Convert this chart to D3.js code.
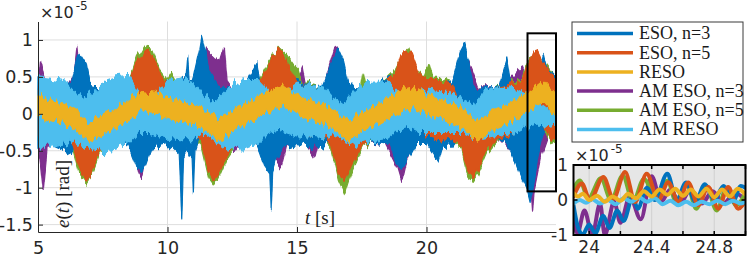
<!DOCTYPE html>
<html>
<head>
<meta charset="utf-8">
<script src="https://cdn.jsdelivr.net/npm/d3@7"></script>
<style>
  body { margin: 0; background: #fff; }
  figure { margin: 0; }
</style>
</head>
<body>
<figure></figure>
<script>
const W = 747
const H = 257

// legend order
const seriesNames = ['ESO, n=3', 'ESO, n=5', 'RESO', 'AM ESO, n=3', 'AM ESO, n=5', 'AM RESO']
const seriesColors = ['#0072BD', '#D95319', '#EDB120', '#7E2F8E', '#77AC30', '#4DBEEE']
const drawOrder = [3, 4, 0, 1, 5, 2]

// main plot: envelope of each fast-oscillating signal, rows are [t, low, high] (x1e-5 rad)
const eso3Band = [[5.0,-0.45,0.5],[5.5,-0.42,0.38],[6.0,-0.5,0.35],[6.3,-0.55,0.45],[6.5,-0.3,0.75],[6.65,-0.25,0.82],[6.85,-0.2,0.7],[7.0,-0.3,0.4],[7.5,-0.45,0.35],[8.0,-0.4,0.4],[8.5,-0.45,0.45],[8.8,-0.72,0.3],[9.0,-0.78,0.2],[9.15,-0.7,0.2],[9.4,-0.45,0.3],[10.0,-0.4,0.45],[10.45,-0.55,0.45],[10.55,-1.41,0.48],[10.62,-0.6,0.5],[10.72,-0.55,0.5],[10.78,-0.5,0.77],[10.84,-0.55,0.45],[10.95,-0.6,0.45],[11.0,-1.07,0.5],[11.06,-0.5,0.6],[11.25,-0.3,0.9],[11.32,-0.25,1.05],[11.45,-0.2,0.85],[11.6,-0.3,0.6],[12.0,-0.36,0.38],[12.5,-0.38,0.36],[13.0,-0.38,0.4],[13.45,-0.42,0.68],[13.55,-0.5,0.45],[13.75,-0.7,0.35],[13.95,-0.8,0.3],[14.0,-1.3,0.3],[14.06,-0.75,0.3],[14.2,-0.6,0.3],[14.5,-0.45,0.35],[15.0,-0.4,0.45],[15.5,-0.45,0.4],[16.0,-0.45,0.4],[16.4,-0.3,0.75],[16.6,-0.25,0.86],[16.8,-0.3,0.7],[17.0,-0.38,0.38],[17.5,-0.38,0.36],[18.0,-0.38,0.38],[18.6,-0.42,0.5],[18.9,-0.72,0.3],[19.1,-0.73,0.25],[19.3,-0.6,0.25],[19.6,-0.4,0.4],[20.0,-0.4,0.45],[20.45,-0.64,0.4],[20.6,-0.45,0.4],[21.0,-0.45,0.45],[21.3,-0.3,0.85],[21.45,-0.25,0.95],[21.6,-0.3,0.75],[21.8,-0.35,0.35],[22.3,-0.35,0.33],[22.8,-0.35,0.38],[23.1,-0.4,0.73],[23.25,-0.5,0.4],[23.7,-0.9,0.3],[23.9,-1.05,0.2],[24.0,-1.2,0.2],[24.1,-1.0,0.3],[24.3,-0.6,0.45],[24.5,-0.3,0.82],[24.65,-0.1,0.6],[25.0,-0.2,0.5]]

const eso5Band = [[5.0,-0.3,0.3],[5.5,-0.35,0.3],[6.0,-0.3,0.25],[6.3,-0.35,0.1],[6.6,-0.75,0.0],[6.8,-0.88,-0.05],[7.0,-0.85,-0.1],[7.2,-0.65,0.0],[7.5,-0.45,0.2],[8.0,-0.3,0.3],[8.5,-0.2,0.4],[8.75,-0.1,0.65],[9.0,0.0,0.8],[9.15,0.05,0.87],[9.4,0.0,0.82],[9.7,-0.1,0.55],[10.0,-0.25,0.42],[10.5,-0.3,0.45],[11.0,-0.3,0.35],[11.3,-0.35,0.1],[11.6,-0.8,0.0],[11.8,-0.92,-0.05],[12.0,-0.8,-0.05],[12.3,-0.55,0.05],[12.6,-0.4,0.25],[13.0,-0.3,0.3],[13.5,-0.2,0.4],[13.9,-0.1,0.65],[14.15,0.0,0.82],[14.3,0.05,0.89],[14.5,0.0,0.78],[14.8,-0.15,0.55],[15.0,-0.25,0.4],[15.5,-0.3,0.4],[16.0,-0.3,0.35],[16.3,-0.4,0.1],[16.6,-0.8,0.0],[16.85,-0.9,-0.05],[17.1,-0.7,0.0],[17.4,-0.5,0.2],[17.8,-0.35,0.3],[18.3,-0.25,0.38],[18.8,-0.1,0.55],[19.0,0.0,0.78],[19.2,0.05,0.85],[19.45,0.0,0.8],[19.7,-0.15,0.55],[20.0,-0.3,0.45],[20.5,-0.35,0.45],[21.0,-0.35,0.4],[21.35,-0.45,0.1],[21.6,-0.78,0.0],[21.8,-0.85,-0.05],[22.0,-0.75,0.0],[22.3,-0.5,0.15],[22.7,-0.35,0.35],[23.2,-0.3,0.4],[23.7,-0.15,0.45],[23.95,-0.05,0.7],[24.15,0.0,0.88],[24.3,-0.05,0.85],[24.5,-0.15,0.7],[24.75,-0.3,0.55],[25.0,-0.35,0.45]]

const resoBand = [[5.0,-0.03,0.23],[5.5,-0.08,0.18],[6.0,-0.13,0.13],[6.5,-0.23,0.03],[7.0,-0.38,-0.12],[7.5,-0.28,-0.02],[8.0,-0.18,0.08],[8.5,-0.08,0.18],[9.0,0.04,0.3],[9.5,0.02,0.28],[10.0,-0.05,0.21],[10.5,-0.08,0.18],[11.0,-0.15,0.11],[11.5,-0.22,0.04],[12.0,-0.36,-0.1],[12.5,-0.23,0.03],[13.0,-0.13,0.13],[13.5,-0.03,0.23],[14.0,0.05,0.31],[14.5,0.12,0.38],[15.0,-0.01,0.25],[15.5,-0.08,0.18],[16.0,-0.13,0.13],[16.5,-0.23,0.03],[17.0,-0.36,-0.1],[17.5,-0.23,0.03],[18.0,-0.16,0.1],[18.5,-0.05,0.21],[19.0,0.04,0.3],[19.5,0.1,0.36],[20.0,0.0,0.26],[20.5,-0.07,0.19],[21.0,-0.13,0.13],[21.5,-0.22,0.04],[22.0,-0.36,-0.1],[22.5,-0.23,0.03],[23.0,-0.16,0.1],[23.5,-0.06,0.2],[24.0,0.04,0.3],[24.5,0.17,0.43],[25.0,-0.03,0.23]]

const amEso3Band = [[5.0,-0.4,0.35],[5.1,-0.7,0.73],[5.2,-1.05,0.55],[5.35,-0.5,0.35],[5.6,-0.38,0.3],[6.0,-0.38,0.3],[6.4,-0.4,0.55],[6.5,-0.3,0.89],[6.6,-0.25,0.55],[7.0,-0.3,0.35],[7.5,-0.38,0.3],[8.0,-0.35,0.35],[8.6,-0.4,0.4],[8.9,-0.8,0.2],[9.0,-0.86,0.2],[9.1,-0.7,0.2],[9.4,-0.4,0.3],[10.0,-0.35,0.38],[10.5,-0.38,0.36],[11.0,-0.38,0.35],[11.5,-0.2,0.85],[11.8,-0.2,0.75],[12.0,-0.3,0.7],[12.2,-0.3,0.93],[12.3,-0.35,0.45],[12.6,-0.55,0.3],[13.0,-0.35,0.35],[13.5,-0.35,0.4],[14.0,-0.55,0.25],[14.4,-0.73,0.25],[14.6,-0.45,0.25],[15.0,-0.35,0.38],[15.2,-0.4,0.65],[15.35,-0.4,0.35],[15.7,-0.6,0.3],[15.85,-0.38,0.3],[16.0,-0.38,0.35],[16.45,-0.3,0.89],[16.6,-0.3,0.85],[16.8,-0.3,0.45],[17.2,-0.38,0.3],[17.8,-0.38,0.35],[18.4,-0.4,0.4],[18.9,-0.75,0.3],[19.05,-0.93,0.25],[19.2,-0.7,0.25],[19.5,-0.4,0.35],[20.0,-0.38,0.38],[20.5,-0.45,0.35],[21.0,-0.38,0.38],[21.5,-0.3,0.8],[21.75,-0.3,0.6],[22.0,-0.38,0.35],[22.5,-0.38,0.35],[23.0,-0.38,0.38],[23.7,-0.7,0.65],[23.9,-1.0,0.3],[24.05,-1.1,0.2],[24.1,-1.36,0.2],[24.15,-1.05,0.4],[24.4,-0.6,0.7],[24.7,-0.3,0.45],[25.0,-0.3,0.4]]

const amEso5Band = [[5.0,-0.35,0.33],[5.5,-0.4,0.33],[6.0,-0.35,0.28],[6.3,-0.42,0.15],[6.6,-0.82,0.05],[6.85,-0.93,0.0],[7.1,-0.8,0.05],[7.4,-0.52,0.22],[7.7,-0.42,0.4],[7.8,-0.4,0.3],[8.0,-0.35,0.33],[8.5,-0.25,0.43],[8.8,-0.15,0.75],[9.1,-0.05,0.93],[9.4,-0.05,0.88],[9.7,-0.15,0.6],[10.0,-0.3,0.46],[10.15,-0.4,0.55],[10.3,-0.35,0.46],[10.5,-0.35,0.48],[11.0,-0.35,0.38],[11.3,-0.42,0.15],[11.6,-0.88,0.05],[11.8,-0.98,0.0],[12.0,-0.85,0.0],[12.3,-0.6,0.08],[12.6,-0.45,0.28],[13.0,-0.35,0.33],[13.5,-0.25,0.43],[13.9,-0.15,0.7],[14.3,-0.05,0.9],[14.6,-0.1,0.8],[14.9,-0.25,0.65],[15.05,-0.32,0.6],[15.2,-0.33,0.43],[15.5,-0.35,0.43],[16.0,-0.35,0.38],[16.3,-0.45,0.15],[16.6,-0.88,0.05],[16.85,-1.08,0.0],[17.1,-0.8,0.05],[17.4,-0.55,0.23],[17.55,-0.45,0.58],[17.7,-0.42,0.33],[18.2,-0.3,0.4],[18.8,-0.15,0.6],[19.1,-0.05,0.8],[19.3,-0.05,0.88],[19.6,-0.15,0.62],[19.9,-0.33,0.48],[20.1,-0.4,0.68],[20.25,-0.4,0.48],[20.45,-0.59,0.48],[20.6,-0.4,0.48],[21.0,-0.38,0.43],[21.35,-0.48,0.13],[21.6,-0.85,0.05],[21.8,-0.9,0.0],[22.0,-0.8,0.05],[22.3,-0.55,0.18],[22.7,-0.38,0.38],[23.2,-0.33,0.43],[23.7,-0.2,0.48],[23.95,-0.1,0.75],[24.2,-0.05,0.85],[24.5,-0.2,0.72],[24.8,-0.35,0.58],[25.0,-0.4,0.48]]

const amResoBand = [[5.0,-0.45,0.5],[5.5,-0.45,0.48],[6.0,-0.42,0.45],[6.4,-0.35,0.3],[6.8,-0.45,0.2],[7.2,-0.48,0.3],[7.6,-0.5,0.45],[8.0,-0.48,0.5],[8.5,-0.4,0.52],[8.9,-0.25,0.28],[9.3,-0.25,0.22],[9.7,-0.3,0.3],[10.0,-0.33,0.45],[10.5,-0.35,0.48],[11.0,-0.35,0.42],[11.4,-0.25,0.25],[11.8,-0.35,0.15],[12.2,-0.45,0.3],[12.6,-0.48,0.42],[13.0,-0.47,0.45],[13.5,-0.4,0.45],[13.9,-0.25,0.3],[14.3,-0.22,0.25],[14.7,-0.27,0.33],[15.0,-0.3,0.4],[15.5,-0.3,0.4],[16.0,-0.32,0.38],[16.4,-0.28,0.22],[16.8,-0.35,0.12],[17.2,-0.42,0.3],[17.6,-0.38,0.42],[18.0,-0.36,0.43],[18.5,-0.33,0.42],[18.9,-0.22,0.28],[19.3,-0.18,0.25],[19.7,-0.25,0.3],[20.0,-0.25,0.32],[20.5,-0.25,0.3],[21.0,-0.25,0.28],[21.4,-0.25,0.2],[21.8,-0.32,0.12],[22.2,-0.33,0.28],[22.6,-0.3,0.35],[23.0,-0.28,0.36],[23.5,-0.25,0.33],[23.9,-0.18,0.25],[24.3,-0.15,0.15],[24.7,-0.17,0.05],[25.0,-0.15,0.05]]

// inset: turning points of each signal, rows are [t, e]
const eso3Zoom = [[23.9,-0.15],[23.93,-0.8],[23.96,-0.98],[24.0,-0.7],[24.04,-0.95],[24.09,-0.45],[24.13,-0.8],[24.18,-0.3],[24.22,-0.6],[24.28,0.1],[24.31,-0.25],[24.37,0.35],[24.42,0.0],[24.5,0.75],[24.56,0.0],[24.62,0.5],[24.68,-0.05],[24.74,0.45],[24.8,0.0],[24.86,0.4],[24.92,-0.05],[24.97,0.4],[25.0,0.35]]
const eso5Zoom = [[23.9,0.1],[23.953,0.47],[24.006,0.0],[24.091,0.66],[24.155,0.04],[24.23,0.8],[24.294,-0.06],[24.368,0.75],[24.443,0.0],[24.506,0.51],[24.57,-0.05],[24.634,0.5],[24.698,-0.15],[24.762,0.37],[24.826,-0.25],[24.889,0.37],[24.953,-0.25],[25.0,0.0]]
const resoZoom = [[23.9,0.2],[23.93,0.1],[23.96,0.18],[24.0,0.0],[24.05,0.12],[24.1,-0.05],[24.15,0.1],[24.2,-0.02],[24.25,0.18],[24.3,0.05],[24.35,0.25],[24.4,0.1],[24.45,0.3],[24.5,0.15],[24.55,0.32],[24.6,0.12],[24.65,0.3],[24.7,0.1],[24.75,0.32],[24.8,0.08],[24.85,0.3],[24.9,0.1],[24.95,0.32],[25.0,0.15]]
const amEso3Zoom = [[23.9,-0.6],[23.925,-0.95],[23.97,-0.3],[24.02,-1.0],[24.07,-0.1],[24.1,-1.0],[24.16,-0.05],[24.2,-0.65],[24.26,0.1],[24.33,-0.55],[24.4,0.68],[24.46,-0.05],[24.52,0.3],[24.58,-0.1],[24.65,0.3],[24.72,-0.1],[24.79,0.25],[24.86,-0.1],[24.93,0.2],[25.0,0.0]]
const amEso5Zoom = [[23.9,0.3],[23.94,0.56],[23.995,0.05],[24.075,0.62],[24.14,0.0],[24.215,0.7],[24.28,-0.05],[24.35,0.6],[24.43,0.05],[24.5,0.55],[24.56,-0.1],[24.625,0.45],[24.685,-0.25],[24.75,0.4],[24.815,-0.3],[24.88,0.35],[24.94,-0.15],[25.0,0.2]]
const amResoZoom = [[23.9,-0.1],[23.94,0.0],[23.98,-0.08],[24.02,0.02],[24.07,-0.1],[24.12,0.0],[24.17,-0.12],[24.22,0.05],[24.27,-0.05],[24.32,0.08],[24.37,-0.05],[24.42,0.05],[24.47,-0.12],[24.52,-0.02],[24.57,-0.15],[24.62,-0.05],[24.67,-0.15],[24.72,-0.05],[24.77,-0.12],[24.82,-0.02],[24.87,-0.12],[24.92,-0.02],[24.97,-0.1],[25.0,-0.05]]

const bands = [eso3Band, eso5Band, resoBand, amEso3Band, amEso5Band, amResoBand]
const zooms = [eso3Zoom, eso5Zoom, resoZoom, amEso3Zoom, amEso5Zoom, amResoZoom]

const xTicks = [5, 10, 15, 20]
const yTicks = [-1.5, -1, -0.5, 0, 0.5, 1]
const zoomXTicks = [24, 24.2, 24.4, 24.6, 24.8, 25]
const zoomXLabels = [24, 24.4, 24.8]
const zoomYTicks = [-1, 0, 1]
const zoomWindow = { t: [23.9, 25], e: [-1.05, 1.09] }

const sans = 'DejaVu Sans, sans-serif'
const serif = 'Liberation Serif, DejaVu Serif, serif'
const axisColor = '#262626'

const svg = d3.select('figure').append('svg')
  .attr('width', W)
  .attr('height', H)
  .style('display', 'block')

// ragged edge so the filled envelopes read like densely packed oscillations
const defs = svg.append('defs')
const rough = defs.append('filter').attr('id', 'rough')
  .attr('x', '-2%').attr('y', '-10%').attr('width', '104%').attr('height', '120%')
  .attr('color-interpolation-filters', 'sRGB')
rough.append('feTurbulence').attr('type', 'fractalNoise')
  .attr('baseFrequency', '0.32 0.03').attr('numOctaves', 2).attr('seed', 4).attr('result', 'n')
rough.append('feColorMatrix').attr('in', 'n').attr('type', 'matrix')
  .attr('values', '0 0 0 0 0.5  0 1 0 0 0  0 0 0 0 0  0 0 0 0 1').attr('result', 'm')
rough.append('feDisplacementMap').attr('in', 'SourceGraphic').attr('in2', 'm')
  .attr('scale', 14).attr('xChannelSelector', 'R').attr('yChannelSelector', 'G')

// Scales
const x = d3.scaleLinear().domain([5, 25]).range([38, 556])
const y = d3.scaleLinear().domain([-1.6, 1.25]).range([232, 21.5])

// grid
svg.append('g').selectAll('line').data(yTicks).join('line')
  .attr('x1', x(5)).attr('x2', x(25))
  .attr('y1', d => y(d)).attr('y2', d => y(d))
  .attr('stroke', '#dedede').attr('stroke-width', 1)
svg.append('g').selectAll('line').data(xTicks.slice(1)).join('line')
  .attr('x1', d => x(d)).attr('x2', d => x(d))
  .attr('y1', y(1.25)).attr('y2', y(-1.6))
  .attr('stroke', '#dedede').attr('stroke-width', 1)

// bands
const band = d3.area()
  .x(d => x(d[0]))
  .y0(d => y(d[1]))
  .y1(d => y(d[2]))

svg.append('g').attr('filter', 'url(#rough)')
  .selectAll('path').data(drawOrder).join('path')
  .attr('d', i => band(bands[i]))
  .attr('fill', i => seriesColors[i])
  .attr('stroke', i => seriesColors[i])
  .attr('stroke-width', 1.2)
  .attr('stroke-linejoin', 'round')

// axes
const fmt = d => String(d)
const yAxis = svg.append('g')
  .attr('transform', `translate(${x(5)},0)`)
  .call(d3.axisLeft(y).tickValues(yTicks).tickFormat(fmt).tickSize(-5).tickSizeOuter(0).tickPadding(5))
const xAxis = svg.append('g')
  .attr('transform', `translate(0,${y(-1.6)})`)
  .call(d3.axisBottom(x).tickValues(xTicks).tickFormat(fmt).tickSize(-5).tickSizeOuter(0).tickPadding(10))
;[yAxis, xAxis].forEach(a => {
  a.select('.domain').attr('stroke', axisColor)
  a.selectAll('.tick line').attr('stroke', axisColor)
  a.selectAll('text').attr('fill', axisColor).style('font-family', sans).style('font-size', '17.5px')
})

// exponent
const expo = svg.append('text').attr('x', 40).attr('y', 18)
  .style('font-family', sans).style('font-size', '16px').attr('fill', axisColor)
expo.append('tspan').text('×10')
expo.append('tspan').attr('dx', 2).attr('dy', -8).style('font-size', '12px').text('-5')

// axis labels
const yl = svg.append('text')
  .attr('transform', 'translate(69,194) rotate(-90)')
  .attr('text-anchor', 'middle')
  .style('font-family', serif).style('font-size', '19px').attr('fill', '#222')
yl.append('tspan').style('font-style', 'italic').text('e')
yl.append('tspan').text('(')
yl.append('tspan').style('font-style', 'italic').text('t')
yl.append('tspan').text(') [rad]')

const xl = svg.append('text').attr('x', 305).attr('y', 224)
  .style('font-family', serif).style('font-size', '19px').attr('fill', '#222')
xl.append('tspan').style('font-style', 'italic').text('t')
xl.append('tspan').text(' [s]')

// zoom window marker
svg.append('rect')
  .attr('x', x(zoomWindow.t[0])).attr('y', y(zoomWindow.e[1]))
  .attr('width', x(zoomWindow.t[1]) - x(zoomWindow.t[0]))
  .attr('height', y(zoomWindow.e[0]) - y(zoomWindow.e[1]))
  .attr('fill', 'none').attr('stroke', '#000').attr('stroke-width', 2)

// legend
const lg = svg.append('g').attr('transform', 'translate(572,22)')
lg.append('rect').attr('width', 171).attr('height', 120)
  .attr('fill', '#fff').attr('stroke', '#3a3a3a').attr('stroke-width', 1)
const item = lg.selectAll('g.item').data(seriesNames).join('g')
  .attr('class', 'item')
  .attr('transform', (d, i) => `translate(0,${11.5 + i * 19.2})`)
item.append('line').attr('x1', 5).attr('x2', 61)
  .attr('stroke', (d, i) => seriesColors[i]).attr('stroke-width', 3.5)
item.append('text').attr('x', 67).attr('dy', '0.33em')
  .style('font-family', serif).style('font-size', '18px').attr('fill', '#1a1a1a')
  .text(d => d)

// inset
const zx = d3.scaleLinear().domain([23.9, 25]).range([573.5, 745.5])
const zy = d3.scaleLinear().domain([-1, 1]).range([235, 165])
const inset = svg.append('g')
svg.append('clipPath').attr('id', 'zclip').append('rect')
  .attr('x', zx(23.9)).attr('y', zy(1)).attr('width', zx(25) - zx(23.9)).attr('height', zy(-1) - zy(1))
inset.append('rect')
  .attr('x', zx(23.9)).attr('y', zy(1)).attr('width', zx(25) - zx(23.9)).attr('height', zy(-1) - zy(1))
  .attr('fill', '#e6e6e6')
inset.append('g').selectAll('line').data(zoomXTicks).join('line')
  .attr('x1', d => zx(d)).attr('x2', d => zx(d))
  .attr('y1', zy(1)).attr('y2', zy(-1))
  .attr('stroke', '#d0d0d0')
inset.append('line').attr('x1', zx(23.9)).attr('x2', zx(25))
  .attr('y1', zy(0)).attr('y2', zy(0)).attr('stroke', '#d0d0d0')

const zline = d3.line().x(d => zx(d[0])).y(d => zy(d[1])).curve(d3.curveMonotoneX)
inset.append('g').attr('clip-path', 'url(#zclip)')
  .selectAll('path').data(drawOrder).join('path')
  .attr('d', i => zline(zooms[i]))
  .attr('fill', 'none')
  .attr('stroke', i => seriesColors[i])
  .attr('stroke-width', 4)
  .attr('stroke-linecap', 'round')

// inset ticks (inside, top/bottom and left/right)
inset.append('g').selectAll('path').data(zoomXTicks).join('path')
  .attr('d', d => `M${zx(d)},${zy(1)}v4M${zx(d)},${zy(-1)}v-4`)
  .attr('stroke', '#000').attr('stroke-width', 1.5)
inset.append('g').selectAll('path').data(zoomYTicks).join('path')
  .attr('d', d => `M${zx(23.9)},${zy(d)}h4M${zx(25)},${zy(d)}h-4`)
  .attr('stroke', '#000').attr('stroke-width', 1.5)
inset.append('rect')
  .attr('x', zx(23.9)).attr('y', zy(1)).attr('width', zx(25) - zx(23.9)).attr('height', zy(-1) - zy(1))
  .attr('fill', 'none').attr('stroke', '#000').attr('stroke-width', 2)

inset.append('g').selectAll('text').data(zoomXLabels).join('text')
  .attr('x', d => zx(d)).attr('y', 253)
  .attr('text-anchor', 'middle')
  .style('font-family', sans).style('font-size', '17px').attr('fill', axisColor)
  .text(fmt)
inset.append('g').selectAll('text').data(zoomYTicks).join('text')
  .attr('x', 568).attr('y', d => zy(d)).attr('dy', '0.36em')
  .attr('text-anchor', 'end')
  .style('font-family', sans).style('font-size', '17px').attr('fill', axisColor)
  .text(fmt)
const zexpo = svg.append('text').attr('x', 575).attr('y', 161)
  .style('font-family', sans).style('font-size', '16px').attr('fill', axisColor)
zexpo.append('tspan').text('×10')
zexpo.append('tspan').attr('dx', 2).attr('dy', -8).style('font-size', '12px').text('-5')
</script>
</body>
</html>
